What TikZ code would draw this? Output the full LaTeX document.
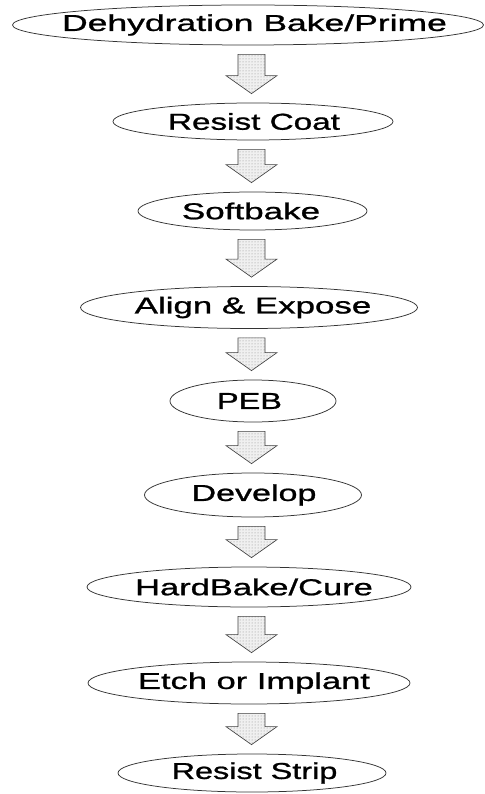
\documentclass[tikz,border=0pt]{standalone}
\usepackage{fontspec}
\setmainfont{Liberation Sans}
\newfontfamily\stepfont[FakeBold=0.9]{Liberation Sans}
\usetikzlibrary{shapes.geometric,calc,patterns}
\newcommand{\lbl}[3]{\makebox[0pt]{\hspace*{#1pt}\scalebox{#2}[1]{#3}}}
\tikzset{
  stepnode/.style={ellipse, draw=black!80, line width=0.75pt, inner sep=0pt,
    font=\stepfont\fontsize{23}{27}\selectfont},
  flowarrow/.style={draw=black!75, line width=0.65pt, line join=miter,
    preaction={fill=black!6}, pattern=dots, pattern color=black!45}
}
\newcommand{\flowarrow}[2]{%
  \draw[flowarrow] let \p1=(#1.south), \p2=(#2.north),
    \n1={\y1-9pt}, \n2={\y2+9pt}, \n3={\y2+27pt} in
    (238pt,\n1) -- (265pt,\n1) -- (265pt,\n3) -- (277pt,\n3) --
    (251.5pt,\n2) -- (226pt,\n3) -- (238pt,\n3) -- cycle;}
\begin{document}
\begin{tikzpicture}[x=1pt,y=-1pt]
\useasboundingbox[fill=white] (0,0) rectangle (484,794);
\node[stepnode, minimum width=471, minimum height=40] (s1) at (248,25)
  {\lbl{13}{1.544}{Dehydration Bake/Prime}};
\node[stepnode, minimum width=280, minimum height=37] (s2) at (253,121.5)
  {\lbl{2}{1.447}{Resist Coat}};
\node[stepnode, minimum width=229, minimum height=38] (s3) at (252.5,211)
  {\lbl{-3}{1.523}{Softbake}};
\node[stepnode, minimum width=337, minimum height=42] (s4) at (249,307.5)
  {\lbl{8}{1.517}{Align \& Expose}};
\node[stepnode, minimum width=166, minimum height=42] (s5) at (253,401)
  {\lbl{-7}{1.41}{PEB}};
\node[stepnode, minimum width=217, minimum height=44] (s6) at (253,495)
  {\lbl{2}{1.48}{Develop}};
\node[stepnode, minimum width=324, minimum height=40] (s7) at (249,587)
  {\lbl{10}{1.50}{HardBake/Cure}};
\node[stepnode, minimum width=322, minimum height=42] (s8) at (249,683)
  {\lbl{10}{1.50}{Etch or Implant}};
\node[stepnode, minimum width=268, minimum height=38] (s9) at (252,773)
  {\lbl{5}{1.41}{Resist Strip}};
\flowarrow{s1}{s2}
\flowarrow{s2}{s3}
\flowarrow{s3}{s4}
\flowarrow{s4}{s5}
\flowarrow{s5}{s6}
\flowarrow{s6}{s7}
\flowarrow{s7}{s8}
\flowarrow{s8}{s9}
\end{tikzpicture}
\end{document}
